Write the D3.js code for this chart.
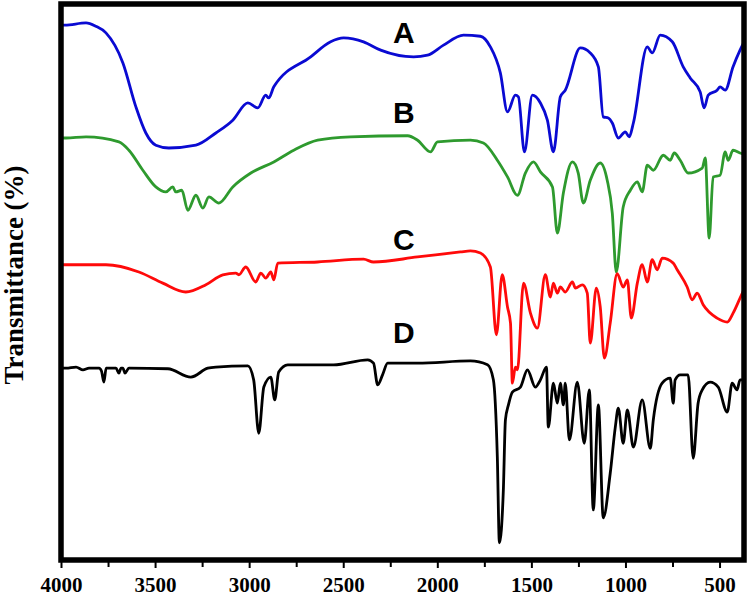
<!DOCTYPE html>
<html>
<head>
<meta charset="utf-8">
<script src="https://cdn.jsdelivr.net/npm/d3@7"></script>
<style>
  html, body { margin: 0; padding: 0; background: #fff; }
  svg { display: block; }
</style>
</head>
<body>
<svg id="chart" width="750" height="596"></svg>
<script>
// Wavenumber (cm-1) vs transmittance (%)
const seriesA = [[4000,96.2],[3979,96.2],[3867,96.6],[3815,96.0],[3761,94.8],[3671,89.4],[3602,81.5],[3549,76.8],[3496,74.6],[3427,74.1],[3283,74.6],[3177,76.8],[3087,79.1],[3007,82.2],[2954,81.3],[2912,83.6],[2896,83.1],[2869,85.1],[2673,90.5],[2567,93.2],[2498,93.9],[2392,93.2],[2301,91.7],[2126,90.5],[2052,90.8],[1967,92.6],[1861,94.4],[1771,94.2],[1718,92.3],[1665,87.6],[1627,80.6],[1585,83.6],[1569,83.3],[1537,73.4],[1495,83.6],[1452,82.2],[1415,79.1],[1383,73.4],[1346,83.3],[1320,84.5],[1240,92.1],[1187,91.2],[1144,88.7],[1118,79.7],[1091,79.5],[1070,78.6],[1038,75.9],[1001,77.0],[980,76.1],[958,78.6],[884,92.3],[858,91.2],[815,94.4],[751,93.2],[693,88.7],[656,86.7],[603,84.2],[582,81.3],[560,83.6],[513,84.5],[497,85.1],[470,84.5],[428,88.7],[391,91.7],[372,93.0]];

const seriesB = [[4000,75.9],[3973,75.9],[3867,76.1],[3692,75.2],[3639,73.7],[3565,70.1],[3496,67.1],[3443,66.2],[3406,67.1],[3390,66.2],[3358,66.5],[3326,62.9],[3283,65.6],[3246,63.3],[3214,65.3],[3161,64.2],[3087,67.1],[2991,69.6],[2869,71.6],[2763,73.7],[2636,75.5],[2461,76.1],[2158,76.3],[2105,75.5],[2036,73.4],[1999,75.2],[1824,75.5],[1755,75.0],[1681,71.9],[1627,68.9],[1574,65.6],[1532,69.6],[1489,71.6],[1452,69.8],[1388,67.1],[1362,58.8],[1330,66.0],[1282,71.6],[1251,69.6],[1224,64.2],[1187,68.3],[1134,71.4],[1097,68.3],[1070,62.4],[1049,51.8],[1012,63.5],[974,66.5],[937,68.0],[911,66.2],[884,71.0],[852,70.1],[799,72.8],[762,71.9],[741,73.2],[709,71.9],[667,69.6],[592,70.5],[576,72.3],[555,57.9],[534,68.9],[497,69.2],[470,73.4],[454,71.9],[428,73.7],[391,73.2],[372,73.0]];

const seriesC = [[4000,53.1],[3973,53.1],[3761,53.1],[3586,51.8],[3459,49.8],[3337,48.2],[3230,49.5],[3140,51.3],[3071,51.6],[3055,51.3],[3018,52.7],[2965,50.0],[2938,51.6],[2912,50.7],[2885,51.8],[2869,50.4],[2848,53.4],[2636,53.6],[2392,54.1],[2339,53.6],[2105,54.5],[1877,55.4],[1824,55.6],[1771,55.2],[1718,52.7],[1686,40.5],[1655,51.3],[1627,45.5],[1611,42.6],[1601,31.8],[1585,34.7],[1574,34.2],[1542,49.8],[1505,44.4],[1468,41.7],[1426,51.3],[1399,47.3],[1383,49.8],[1362,48.0],[1346,49.1],[1320,48.2],[1282,50.0],[1266,48.9],[1229,49.5],[1203,48.0],[1187,39.0],[1155,48.9],[1134,45.5],[1112,36.3],[1081,42.6],[1044,51.5],[1012,49.1],[990,50.4],[969,43.5],[937,49.8],[911,53.1],[884,50.0],[858,54.0],[831,52.2],[805,54.3],[746,53.4],[725,52.2],[672,49.1],[645,46.8],[619,48.0],[587,45.9],[513,43.5],[459,42.8],[428,44.4],[391,47.1],[372,48.5]];

const seriesD = [[4000,34.5],[3973,34.5],[3920,34.7],[3883,34.2],[3851,34.5],[3798,34.5],[3785,34.0],[3772,32.0],[3760,34.5],[3751,34.5],[3708,34.5],[3692,33.6],[3681,34.5],[3671,34.5],[3660,33.6],[3639,34.5],[3432,34.4],[3310,32.9],[3220,34.5],[3177,34.7],[3007,34.9],[2976,32.4],[2949,22.8],[2922,31.1],[2885,32.9],[2864,28.8],[2843,33.8],[2795,35.1],[2551,35.1],[2370,36.0],[2339,35.4],[2317,31.5],[2291,33.3],[2264,35.4],[2105,35.4],[1824,35.8],[1733,35.1],[1702,32.4],[1681,18.5],[1670,3.1],[1649,12.6],[1638,25.2],[1622,27.9],[1601,30.2],[1558,31.1],[1521,34.2],[1479,31.1],[1452,32.4],[1420,34.7],[1410,23.9],[1383,31.8],[1362,28.2],[1346,31.8],[1330,27.9],[1320,31.8],[1298,21.6],[1256,32.0],[1219,21.0],[1192,30.6],[1171,9.0],[1144,27.9],[1118,7.6],[1081,15.6],[1054,23.9],[1038,27.3],[1012,21.0],[990,27.0],[958,20.3],[911,28.8],[868,20.1],[852,25.2],[805,31.8],[762,32.7],[746,28.2],[736,32.4],[709,33.3],[667,33.3],[640,18.3],[614,28.2],[592,30.6],[550,32.0],[507,31.1],[459,26.6],[433,31.8],[407,30.6],[391,32.4],[372,32.4]];

const seriesNames = ["A", "B", "C", "D"];
const seriesColors = ["#0a0ad2", "#2e9a2e", "#ff0a0a", "#000000"];
// label anchor positions (wavenumber, transmittance)
const labelWave = [2235, 2235, 2235, 2235];
const labelValue = [93.0, 78.6, 55.8, 39.0];

const majorTicks = [4000, 3500, 3000, 2500, 2000, 1500, 1000, 500];
const minorTicks = [3750, 3250, 2750, 2250, 1750, 1250, 750];
const xDomain = [4000, 370];
const yDomain = [0, 100];
const yTitle = "Transmittance (%)";

const svg = d3.select("#chart");
const plotL = 61, plotR = 744, plotT = 4, plotB = 560;

const x = d3.scaleLinear().domain(xDomain).range([plotL, plotR]);
const y = d3.scaleLinear().domain(yDomain).range([plotB, plotT]);

svg.append("defs").append("clipPath").attr("id", "clip")
  .append("rect").attr("x", plotL).attr("y", plotT).attr("width", plotR - plotL).attr("height", plotB - plotT);

const line = d3.line()
  .x(d => x(d[0]))
  .y(d => y(d[1]))
  .curve(d3.curveMonotoneX);

const allSeries = [seriesA, seriesB, seriesC, seriesD];
const g = svg.append("g").attr("clip-path", "url(#clip)");
allSeries.forEach((s, i) => {
  g.append("path")
    .datum(s)
    .attr("d", line)
    .attr("fill", "none")
    .attr("stroke", seriesColors[i])
    .attr("stroke-width", 2.8)
    .attr("stroke-linejoin", "round")
    .attr("stroke-linecap", "round");
});

// series labels
seriesNames.forEach((n, i) => {
  svg.append("text")
    .attr("x", x(labelWave[i]))
    .attr("y", y(labelValue[i]))
    .attr("font-family", "'Liberation Sans', Arial, sans-serif")
    .attr("font-weight", "bold")
    .attr("font-size", 30)
    .attr("fill", "#000")
    .text(n);
});

// axes
const axisG = svg.append("g").attr("transform", `translate(0,${plotB + 2})`);
axisG.call(d3.axisBottom(x).tickValues(majorTicks).tickSize(6).tickPadding(9).tickFormat(d3.format("d")));
axisG.select(".domain").remove();
axisG.selectAll(".tick line").attr("stroke", "#000").attr("stroke-width", 2);
axisG.selectAll(".tick text")
  .attr("font-family", "'Liberation Serif', 'Times New Roman', serif")
  .attr("font-weight", "bold")
  .attr("font-size", 21)
  .attr("fill", "#000");

const minorG = svg.append("g").attr("transform", `translate(0,${plotB + 2})`);
minorG.call(d3.axisBottom(x).tickValues(minorTicks).tickSize(5).tickFormat(""));
minorG.select(".domain").remove();
minorG.selectAll(".tick line").attr("stroke", "#000").attr("stroke-width", 2);

// frame
svg.append("rect")
  .attr("x", plotL).attr("y", plotT)
  .attr("width", plotR - plotL).attr("height", plotB - plotT)
  .attr("fill", "none").attr("stroke", "#000").attr("stroke-width", 5.5);

// y title
svg.append("text")
  .attr("transform", `translate(23,${(160 + 390) / 2}) rotate(-90)`)
  .attr("text-anchor", "middle")
  .attr("font-family", "'Liberation Serif', 'Times New Roman', serif")
  .attr("font-weight", "bold")
  .attr("font-size", 27)
  .attr("fill", "#000")
  .text(yTitle);
</script>
</body>
</html>
